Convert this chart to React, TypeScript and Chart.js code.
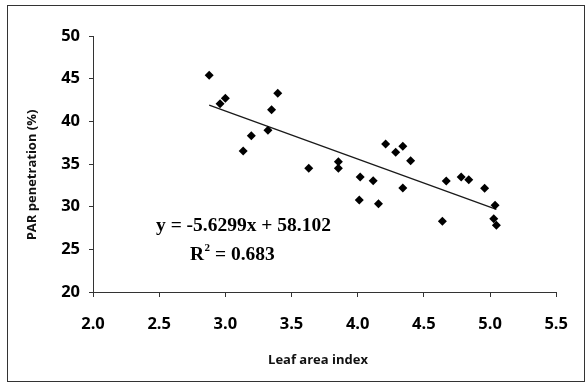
import React, { useEffect, useRef } from "react";
import { Chart, registerables } from "chart.js";

Chart.register(...registerables);

// Leaf area index (x) and PAR penetration % (y)
const LAI = [
  2.878, 3.0, 2.96, 3.396, 3.349, 3.322, 3.196, 3.135, 3.63,
  4.211, 4.341, 4.287, 4.4, 3.854, 3.854, 4.019, 4.117, 4.341, 4.012, 4.157,
  4.669, 4.782, 4.839, 4.959, 5.038, 4.64, 5.028, 5.048,
];
const PAR = [
  45.39, 42.7, 42.07, 43.28, 41.36, 38.95, 38.32, 36.52, 34.5,
  37.34, 37.07, 36.37, 35.39, 35.27, 34.5, 33.48, 33.04, 32.19, 30.78, 30.35,
  33.01, 33.48, 33.16, 32.15, 30.16, 28.28, 28.59, 27.82,
];

// Linear trend shown on the chart
const SLOPE = -5.6299;
const INTERCEPT = 58.102;
const R2 = "0.683";

const X_MIN = 2.0;
const X_MAX = 5.5;
const X_STEP = 0.5;
const Y_MIN = 20;
const Y_MAX = 50;
const Y_STEP = 5;

const X_TITLE = "Leaf area index";
const Y_TITLE = "PAR penetration (%)";

export default function App() {
  const ref = useRef<HTMLCanvasElement | null>(null);

  useEffect(() => {
    if (!ref.current) return;
    const pts = LAI.map((x, i) => ({ x, y: PAR[i] }));
    const xLo = Math.min(...LAI);
    const xHi = Math.max(...LAI);
    const trend = [
      { x: xLo, y: SLOPE * xLo + INTERCEPT },
      { x: xHi, y: SLOPE * xHi + INTERCEPT },
    ];

    const textPlugin = {
      id: "texts",
      afterDraw(chart: any) {
        const ctx = chart.ctx as CanvasRenderingContext2D;
        ctx.save();
        ctx.fillStyle = "#000";
        // equation
        ctx.font = 'bold 19.5px "Liberation Serif"';
        ctx.textAlign = "left";
        ctx.textBaseline = "alphabetic";
        const eq = `y = ${SLOPE}x + ${INTERCEPT}`;
        ctx.fillText(eq, 156, 231);
        // R^2
        let x = 190;
        ctx.fillText("R", x, 260);
        x += ctx.measureText("R").width + 0.5;
        ctx.font = 'bold 11px "Liberation Serif"';
        ctx.fillText("2", x, 251);
        x += ctx.measureText("2").width;
        ctx.font = 'bold 19.5px "Liberation Serif"';
        ctx.fillText(` = ${R2}`, x, 260);
        // axis titles
        ctx.font = 'bold 13px "Open Sans"';
        ctx.fillStyle = "#111";
        ctx.textAlign = "center";
        ctx.textBaseline = "middle";
        ctx.fillText(X_TITLE, 318, 360);
        ctx.translate(32, 175);
        ctx.rotate(-Math.PI / 2);
        ctx.fillText(Y_TITLE, 0, 0);
        ctx.restore();
      },
    };

    const tickFont = { family: '"Open Sans"', size: 16.5, weight: "bold" as const };

    const chart = new Chart(ref.current, {
      type: "scatter",
      data: {
        datasets: [
          {
            type: "scatter",
            data: pts,
            pointStyle: "rectRot",
            pointRadius: 4.5,
            pointHoverRadius: 4.5,
            backgroundColor: "#000",
            borderColor: "#000",
            borderWidth: 0,
          },
          {
            type: "line",
            data: trend,
            borderColor: "#1a1a1a",
            borderWidth: 1.3,
            pointRadius: 0,
            fill: false,
          },
        ],
      } as any,
      options: {
        animation: false,
        responsive: false,
        maintainAspectRatio: false,
        layout: { padding: { top: 36, right: 18, left: 0, bottom: 0 } },
        plugins: {
          legend: { display: false },
          tooltip: { enabled: false },
        },
        scales: {
          x: {
            type: "linear",
            min: X_MIN,
            max: X_MAX,
            afterFit: (s: any) => {
              s.height = 91;
            },
            border: { display: true, color: "#333", width: 1 },
            grid: {
              drawOnChartArea: false,
              drawTicks: true,
              tickLength: 5,
              color: "#333",
            },
            ticks: {
              stepSize: X_STEP,
              color: "#000",
              font: tickFont,
              padding: 17,
              maxRotation: 0,
              callback: (v: any) => Number(v).toFixed(1),
            },
          },
          y: {
            type: "linear",
            min: Y_MIN,
            max: Y_MAX,
            afterFit: (s: any) => {
              s.width = 93;
            },
            border: { display: true, color: "#333", width: 1 },
            grid: {
              drawOnChartArea: false,
              drawTicks: true,
              tickLength: 4,
              color: "#333",
            },
            ticks: {
              stepSize: Y_STEP,
              color: "#000",
              font: tickFont,
              padding: 9,
            },
          },
        },
      },
      plugins: [textPlugin],
    });
    return () => chart.destroy();
  }, []);

  return (
    <div
      style={{
        position: "fixed",
        left: 0,
        top: 0,
        width: 585,
        height: 383,
        background: "#fff",
      }}
    >
      <canvas ref={ref} width={585} height={383} style={{ display: "block" }} />
      <div
        style={{
          position: "absolute",
          left: 7,
          top: 5,
          width: 576,
          height: 375,
          border: "1px solid #333",
          pointerEvents: "none",
        }}
      />
    </div>
  );
}
